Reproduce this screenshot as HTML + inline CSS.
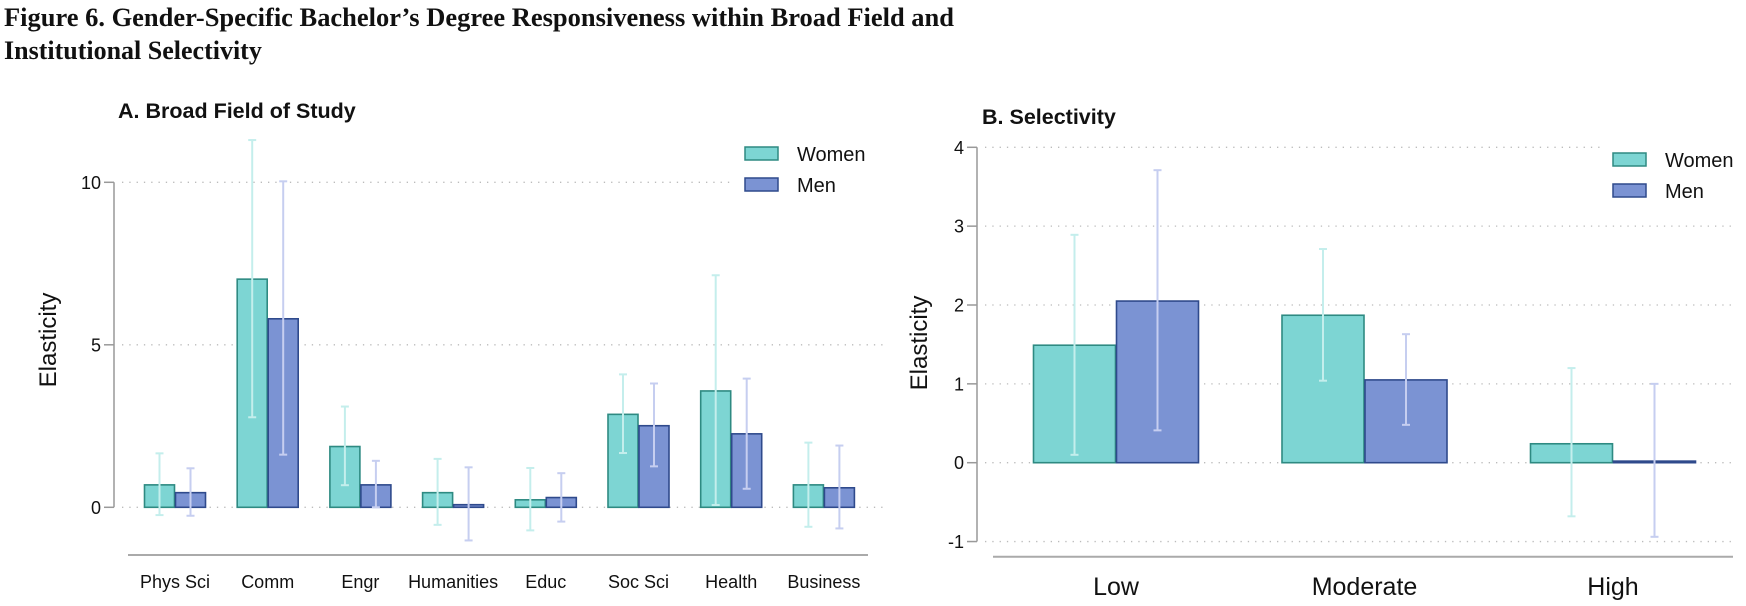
<!DOCTYPE html>
<html><head><meta charset="utf-8"><style>
html,body{margin:0;padding:0;background:#fff;}
svg{display:block;}
text{font-family:"Liberation Sans",Arial,sans-serif;fill:#111;}
</style></head><body>
<svg id="fig" width="1746" height="606" viewBox="0 0 1746 606" xmlns="http://www.w3.org/2000/svg">
<text x="4" y="26" textLength="950" lengthAdjust="spacingAndGlyphs" style="font-family:'Liberation Serif',serif;font-weight:bold;font-size:26px">Figure 6. Gender-Specific Bachelor’s Degree Responsiveness within Broad Field and</text>
<text x="4" y="59" style="font-family:'Liberation Serif',serif;font-weight:bold;font-size:26px">Institutional Selectivity</text>
<g id="pa"></g>
<g id="pb"></g>
</svg>
<script>
// Panel A data
const catsA = ["Phys Sci","Comm","Engr","Humanities","Educ","Soc Sci","Health","Business"];
const womenA = [0.69,7.02,1.87,0.45,0.23,2.86,3.58,0.69];
const womenALo = [-0.24,2.77,0.68,-0.54,-0.71,1.67,0.07,-0.6];
const womenAHi = [1.66,11.3,3.1,1.49,1.21,4.09,7.14,1.99];
const menA = [0.45,5.8,0.69,0.08,0.3,2.51,2.26,0.6];
const menALo = [-0.26,1.62,0,-1.02,-0.44,1.26,0.57,-0.65];
const menAHi = [1.2,10.03,1.43,1.23,1.05,3.81,3.96,1.9];
const ticksA = [0,5,10];
// Panel B data
const catsB = ["Low","Moderate","High"];
const womenB = [1.49,1.87,0.24];
const womenBLo = [0.1,1.04,-0.68];
const womenBHi = [2.89,2.71,1.2];
const menB = [2.05,1.05,0.02];
const menBLo = [0.41,0.48,-0.94];
const menBHi = [3.71,1.63,1.0];
const ticksB = [-1,0,1,2,3,4];

const NS="http://www.w3.org/2000/svg";
function mk(parent,tag,attrs,txt){const e=document.createElementNS(NS,tag);for(const k in attrs)e.setAttribute(k,attrs[k]);if(txt!==undefined)e.textContent=txt;parent.appendChild(e);return e;}

function panel(g,o){
  const y=v=>o.y0-(v-o.v0)*o.ppu;
  const x=i=>o.c0+i*o.step;
  const t=mk(g,"text",{x:o.tx,y:o.ty,"font-size":o.tfs,"font-weight":"bold"},o.title);
  
  
  o.ticks.forEach(v=>{
    const gl=mk(g,"line",{x1:o.ax+8,x2:o.gx2,y1:y(v),y2:y(v),stroke:"#bbb","stroke-width":1.3,"stroke-dasharray":"1.3 6"});
    
    
    const tk=mk(g,"line",{x1:o.ax-10,x2:o.ax,y1:y(v),y2:y(v),stroke:"#999","stroke-width":1.5});
    
    
    const tl=mk(g,"text",{x:o.ax-13,y:y(v)+6.5,"font-size":18,"text-anchor":"end"},String(v));
    
    
  });
  const ya=mk(g,"line",{x1:o.ax,x2:o.ax,y1:y(o.ticks[o.ticks.length-1]),y2:y(o.ticks[0]),stroke:"#999","stroke-width":1.5});
  
  
  const xa=mk(g,"line",{x1:o.xa1,x2:o.xa2,y1:o.xay,y2:o.xay,stroke:"#aaa","stroke-width":2});
  
  
  const yt=mk(g,"text",{x:0,y:0,"font-size":24,"text-anchor":"middle",transform:`translate(${o.ylx},${o.yly}) rotate(-90)`},"Elasticity");
  
  
  const lc=mk(g,"rect",{x:o.lx-12,y:o.ly-10,width:o.lcw,height:60,fill:"#fff"});
  
  
  const series=[{v:o.w,lo:o.wlo,hi:o.whi,fill:"#7dd5d3",st:"#2e8a82",eb:"#c4eeec",off:-1,n:"women"},
                {v:o.m,lo:o.mlo,hi:o.mhi,fill:"#7b93d3",st:"#2f4a8c",eb:"#c6cef0",off:0,n:"men"}];
  series.forEach(s=>{
    s.v.forEach((v,i)=>{
      const bx=x(i)+s.off*o.bw+(s.off===0?0.5:-0.5);
      const top=Math.min(y(v),y(0)), h=Math.max(Math.abs(y(v)-y(0)),1.5);
      const b=mk(g,"rect",{x:bx,y:top,width:o.bw,height:h,fill:s.fill,stroke:s.st,"stroke-width":1.6});
      
      
      const cx=bx+o.bw/2;
      const eb=mk(g,"g",{stroke:s.eb,"stroke-width":2});
      
      
      mk(eb,"line",{x1:cx,x2:cx,y1:y(s.hi[i]),y2:y(s.lo[i])});
      mk(eb,"line",{x1:cx-4,x2:cx+4,y1:y(s.hi[i]),y2:y(s.hi[i])});
      mk(eb,"line",{x1:cx-4,x2:cx+4,y1:y(s.lo[i]),y2:y(s.lo[i])});
    });
  });
  o.cats.forEach((c,i)=>{
    const cl=mk(g,"text",{x:x(i),y:o.cly,"font-size":o.cfs,"text-anchor":"middle"},c);
    
    
  });
  [["Women","#7dd5d3","#2e8a82"],["Men","#7b93d3","#2f4a8c"]].forEach((l,i)=>{
    const le=mk(g,"g",{});
    
    
    mk(le,"rect",{x:o.lx,y:o.ly+i*31,width:33,height:13,fill:l[1],stroke:l[2],"stroke-width":1.5});
    mk(le,"text",{x:o.lx+52,y:o.ly+i*31+14,"font-size":20},l[0]);
  });
}
panel(document.getElementById("pa"),{title:"A. Broad Field of Study",tx:118,ty:118,tfs:21.5,
  y0:507.3,v0:0,ppu:32.5,c0:175,step:92.7,bw:30,ticks:ticksA,ax:114,gx2:884,xa1:128,xa2:868,xay:555,
  ylx:56,yly:340,cats:catsA,cly:588,cfs:18,lx:745,ly:147,lcw:150,
  w:womenA,wlo:womenALo,whi:womenAHi,m:menA,mlo:menALo,mhi:menAHi});
panel(document.getElementById("pb"),{title:"B. Selectivity",tx:982,ty:124,tfs:21.5,
  y0:462.7,v0:0,ppu:78.85,c0:1116,step:248.5,bw:82,ticks:ticksB,ax:977,gx2:1733,xa1:993,xa2:1733,xay:556.7,
  ylx:927,yly:343,cats:catsB,cly:595,cfs:25,lx:1613,ly:153,lcw:140,
  w:womenB,wlo:womenBLo,whi:womenBHi,m:menB,mlo:menBLo,mhi:menBHi});
</script>
</body></html>
